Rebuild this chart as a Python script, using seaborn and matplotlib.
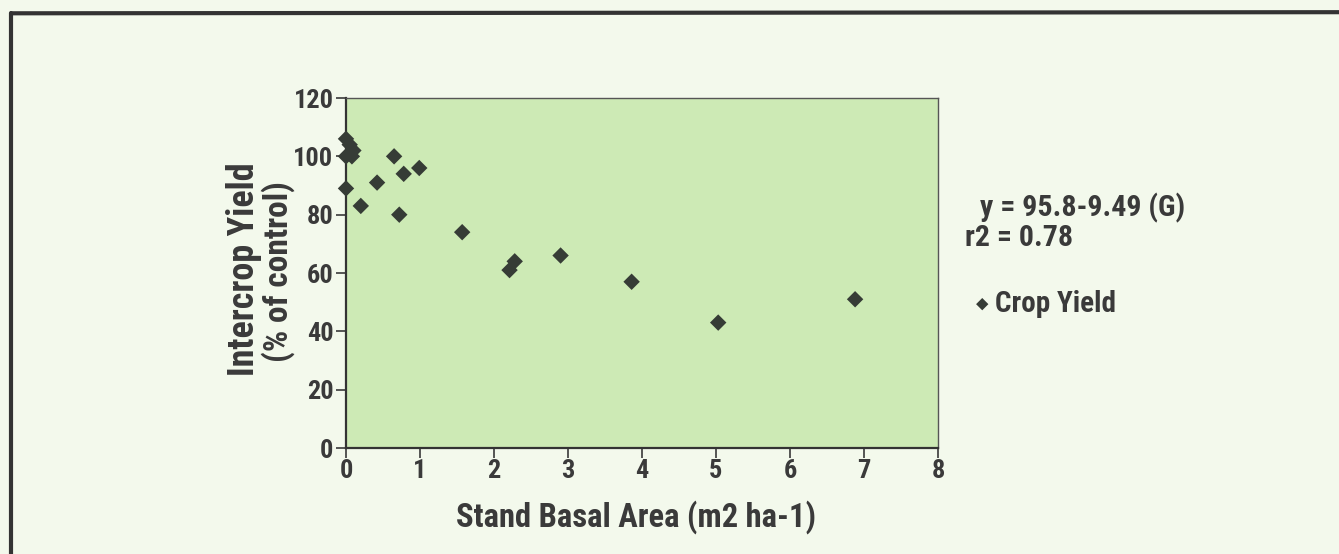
import numpy as np
import pandas as pd
import seaborn as sns
import matplotlib.pyplot as plt
from matplotlib.lines import Line2D

# values
basal_area = [0.0, 0.05, 0.1, 0.0, 0.08, 0.0, 0.2, 0.42, 0.65, 0.78, 0.99, 0.72,
              1.57, 2.21, 2.28, 2.9, 3.86, 5.03, 6.88]
crop_yield = [106, 104, 102, 100, 100, 89, 83, 91, 100, 94, 96, 80,
              74, 61, 64, 66, 57, 43, 51]
x_ticks = [0, 1, 2, 3, 4, 5, 6, 7, 8]
y_ticks = [0, 20, 40, 60, 80, 100, 120]

df = pd.DataFrame({"Stand Basal Area": basal_area, "Yield": crop_yield})

sns.set_style("ticks")
plt.rcParams['font.family'] = ['Liberation Sans Narrow', 'Roboto Condensed', 'Open Sans', 'DejaVu Sans']
plt.rcParams['font.weight'] = 'bold'

txt = '#3a3a3a'
fig = plt.figure(figsize=(13.39, 5.54), dpi=100, facecolor='#f3f9ec')
ax = fig.add_axes([0.2584, 0.1913, 0.4421, 0.6318])
ax.set_facecolor('#cdeab5')

sns.scatterplot(data=df, x="Stand Basal Area", y="Yield", marker='D', s=70,
                color='#363c36', edgecolor='none', label='Crop Yield', ax=ax, clip_on=False, zorder=3)

ax.set_xlim(0, 8)
ax.set_ylim(0, 120)
ax.set_xticks(x_ticks)
ax.set_yticks(y_ticks)
ax.tick_params(axis='both', labelsize=19, colors=txt, length=7, width=1.2, pad=2)
ax.tick_params(axis='x', pad=1)
for lab in ax.get_xticklabels() + ax.get_yticklabels():
    lab.set_fontweight('bold')

for side in ['left', 'bottom']:
    ax.spines[side].set_color('#333333')
    ax.spines[side].set_linewidth(1.6)
for side in ['top', 'right']:
    ax.spines[side].set_color('#555555')
    ax.spines[side].set_linewidth(1.0)

ax.set_xlabel("Stand Basal Area (m2 ha-1)", fontsize=23.5, fontweight='bold', color=txt, va='center')
ax.xaxis.set_label_coords(0.49, -0.197)
ax.set_ylabel("")
ax.text(-0.173, 0.51, "Intercrop Yield", transform=ax.transAxes, rotation=90, fontsize=26,
        fontweight='bold', color=txt, ha='center', va='center')
ax.text(-0.114, 0.505, "(% of control)", transform=ax.transAxes, rotation=90, fontsize=24,
        fontweight='bold', color=txt, ha='center', va='center')

leg = ax.legend(loc='center left', bbox_to_anchor=(1.06, 0.412), frameon=False,
                fontsize=21, handletextpad=0.15, markerscale=0.75, handlelength=0.6,
                borderpad=0, borderaxespad=0)
for t in leg.get_texts():
    t.set_color(txt)
    t.set_fontweight('bold')

fig.text(0.732, 0.6245, "y = 95.8-9.49 (G)", fontsize=21.5, fontweight='bold',
         color=txt, ha='left', va='center')
fig.text(0.7207, 0.570, "r2 = 0.78", fontsize=21.5, fontweight='bold',
         color=txt, ha='left', va='center')

# page frame lines (left and top)
fig.add_artist(Line2D([0.0085, 0.0085], [0.0, 0.976], transform=fig.transFigure, color='#333333', lw=3))
fig.add_artist(Line2D([0.0085, 1.0], [0.976, 0.978], transform=fig.transFigure, color='#333333', lw=3))

fig.savefig("out.png", dpi=100, facecolor=fig.get_facecolor())
